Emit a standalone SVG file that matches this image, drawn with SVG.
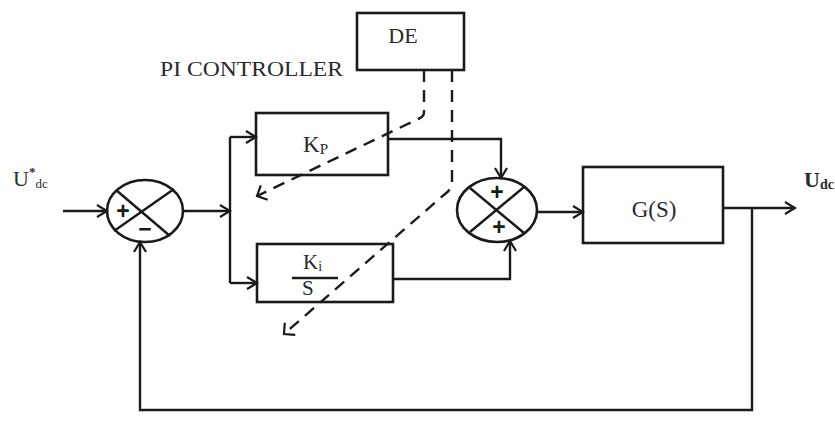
<svg xmlns="http://www.w3.org/2000/svg" width="835" height="443" viewBox="0 0 835 443">
<defs>
<style>
.ln{fill:none;stroke:#1a1a1a;stroke-width:2.4;stroke-linejoin:miter}
.box{fill:none;stroke:#1a1a1a;stroke-width:2.6}
.dash{fill:none;stroke:#1a1a1a;stroke-width:2.4;stroke-dasharray:12 8}
.t{font-family:"Liberation Serif","Times New Roman",serif;fill:#2a2a2a}
.sgn{font-family:"Liberation Sans",Arial,sans-serif;fill:#1a1a1a;font-weight:bold}
</style>
<marker id="ar" viewBox="0 0 14 14" refX="12" refY="7" markerWidth="14" markerHeight="14" markerUnits="userSpaceOnUse" orient="auto">
<path d="M2 1 L12 7 L2 13" fill="none" stroke="#1a1a1a" stroke-width="2.2"/>
</marker>
<marker id="ard" viewBox="0 0 20 20" refX="16" refY="10" markerWidth="20" markerHeight="20" markerUnits="userSpaceOnUse" orient="auto">
<path d="M8 2 L16 10 L8 18" fill="none" stroke="#1a1a1a" stroke-width="2.2"/>
</marker>
</defs>
<rect width="835" height="443" fill="#fff"/>

<g id="sum1">
<ellipse class="box" cx="145" cy="211" rx="38" ry="31"/>
<path class="ln" d="M116 190 L170 236 M114 231 L174 189"/>
<text class="sgn" x="123" y="219" font-size="23" text-anchor="middle">+</text>
<text class="sgn" x="145" y="237" font-size="23" text-anchor="middle">−</text>
</g>

<g id="kp">
<rect class="box" x="256" y="113" width="132" height="62"/>
<text class="t" x="303" y="152" font-size="23">K<tspan font-size="15" dy="2">P</tspan></text>
</g>

<g id="ki">
<rect class="box" x="257" y="244" width="136" height="58"/>
<text class="t" x="303" y="269" font-size="21">K<tspan font-size="14" dy="2">i</tspan></text>
<line class="ln" x1="292" y1="278" x2="338" y2="278"/>
<text class="t" x="302" y="295" font-size="21">S</text>
</g>

<g id="sum2">
<ellipse class="box" cx="497" cy="210" rx="40" ry="32"/>
<path class="ln" d="M470 188 L524 233 M470 232 L524 187"/>
<text class="sgn" x="497" y="200" font-size="23" text-anchor="middle">+</text>
<text class="sgn" x="499" y="235" font-size="23" text-anchor="middle">+</text>
</g>

<g id="gs">
<rect class="box" x="583" y="167" width="140" height="76"/>
<text class="t" x="654" y="217" font-size="23" text-anchor="middle">G(S)</text>
</g>

<g id="de">
<rect class="box" x="357" y="13" width="107" height="57"/>
<text class="t" x="403" y="43" font-size="22" text-anchor="middle">DE</text>
</g>

<g id="labels">
<text class="t" x="160" y="76" font-size="22" textLength="183" lengthAdjust="spacingAndGlyphs">PI CONTROLLER</text>
<text class="t" x="13" y="186" font-size="22">U<tspan font-size="13" dy="-10" font-weight="bold">*</tspan><tspan font-size="13" dy="12">dc</tspan></text>
<text class="t" x="804" y="187" font-size="22" font-weight="bold">U<tspan font-size="14" dy="2" font-weight="bold">dc</tspan></text>
</g>

<g id="connectors">
<path class="ln" d="M63 211 L107 211" marker-end="url(#ar)"/>
<path class="ln" d="M184 211 L230 211" marker-end="url(#ar)"/>
<path class="ln" d="M230 137 L230 283"/>
<path class="ln" d="M230 137 L256 137" marker-end="url(#ar)"/>
<path class="ln" d="M230 283 L257 283" marker-end="url(#ar)"/>
<path class="ln" d="M388 139 L501 139 L501 178" marker-end="url(#ar)"/>
<path class="ln" d="M393 279 L510 279 L510 241" marker-end="url(#ar)"/>
<path class="ln" d="M537 212 L583 212" marker-end="url(#ar)"/>
<path class="ln" d="M723 208 L795 208" marker-end="url(#ar)"/>
<path class="ln" d="M752 208 L752 410 L140 410 L140 242" marker-end="url(#ar)"/>
<path class="dash" d="M424 70 L424 112 Q424 117 418 119 L257 196" marker-end="url(#ard)"/>
<path class="dash" d="M452 70 L452 182 Q452 189 445 194 L284 334" marker-end="url(#ard)"/>
</g>
</svg>
